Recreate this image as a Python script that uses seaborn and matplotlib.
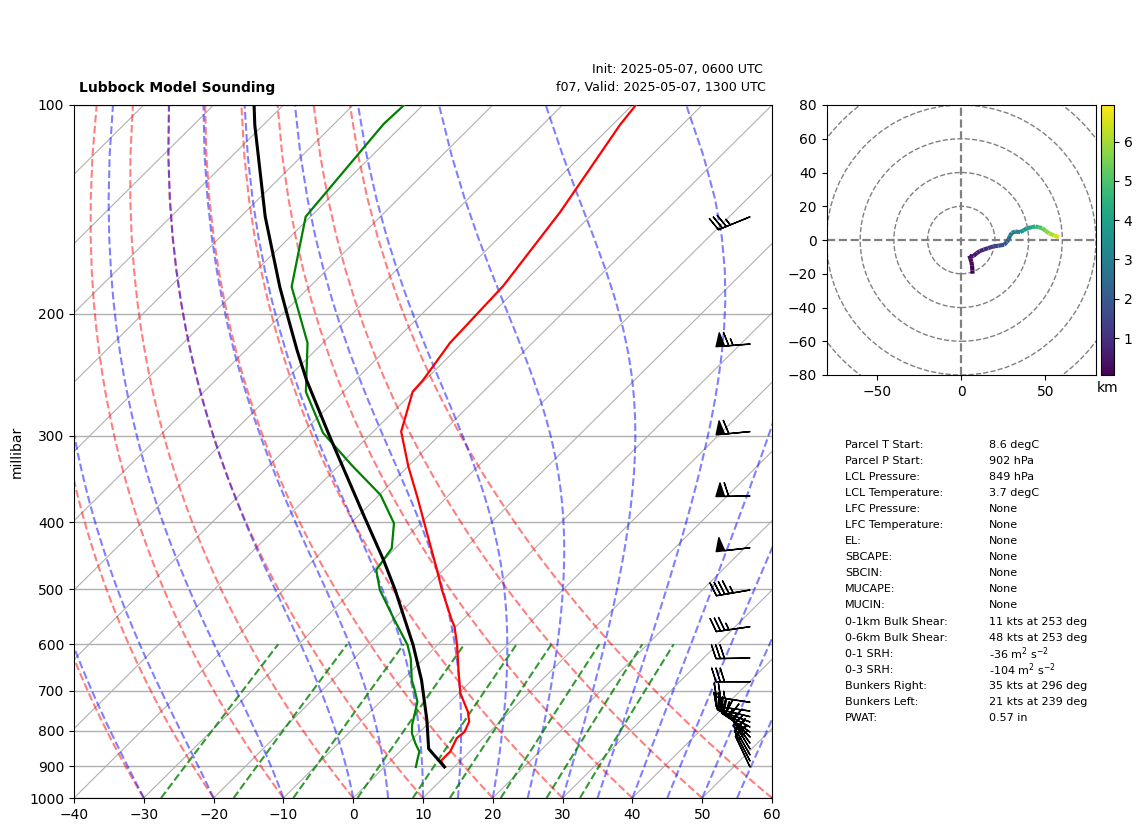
import numpy as np
import matplotlib
matplotlib.use("Agg")
import matplotlib.pyplot as plt
import matplotlib.transforms as mtrans
import seaborn as sns
from matplotlib.collections import LineCollection
from matplotlib.patches import Circle
from matplotlib.ticker import NullLocator, ScalarFormatter

# Sounding profiles (hPa, degC)
temp_p = [902, 883.5, 857.4, 819.5, 802.7, 776, 751, 705.6, 653.4, 601.4, 566, 552.3, 501,
          463.7, 401, 367.5, 332.6, 296, 259.3, 249.4, 220.5, 182.4, 142.7, 106.9, 100]
temp_c = [8.6, 7.2, 7.2, 6.2, 6.4, 5.6, 4.0, 0.2, -3.4, -7.2, -10.2, -11.7, -17.3,
          -21.5, -29.5, -34.3, -39.9, -46.0, -50.1, -50.3, -51.8, -52.4, -54.9, -58.9, -59.5]

dewp_p = [902, 881.3, 857.4, 833.7, 806.9, 784.6, 754.6, 726.1, 695.6, 676.2, 628.8, 601.4, 549.9,
          501, 468.8, 436.3, 401.4, 365.4, 330.7, 297.3, 259.3, 220.5, 182.9, 144.9, 106.5, 100]
dewp_c = [4.5, 3.7, 2.8, 1.0, -0.9, -2.1, -3.4, -4.7, -7.0, -8.6, -11.9, -14.3, -20.2,
          -26.2, -29.6, -30.5, -33.8, -39.8, -48.3, -57.0, -65.4, -72.2, -82.6, -90.7, -92.9, -92.7]

parcel_p = [902, 849, 771.7, 676.2, 601.4, 552.3, 501, 453.5, 392.7, 301, 249.4, 225.7, 199.6,
            182.9, 144.9, 106.9, 100]
parcel_c = [8.6, 3.7, -0.7, -7.2, -13.5, -18.4, -24.0, -30.0, -39.0, -55.5, -67.0, -72.7, -79.5,
            -84.3, -96.5, -111.2, -114.2]

# Wind barbs (hPa, kts)
barb_p = [145, 221.3, 296, 366.6, 435.4, 501, 566, 628.1, 679.6, 727.6, 749, 763.2, 776.7,
          789.8, 803.1, 816.3, 833.3, 849.7, 866.8, 884.4, 902]
barb_u = [32.4, 64.8, 59.7, 60, 49.7, 44.4, 34.6, 30, 30, 24.7, 22, 21, 19,
          17, 15, 12, 10, 9, 9, 9, 9]
barb_v = [13.2, 5, 5.7, 1, 5.7, 7.6, 5, 0.5, 0, -3.8, -3, -5, -7,
          -9, -10, -12, -14, -15, -16, -17.5, -19]

# Hodograph (kts, km)
hodo_u = [6.7, 6.6, 6.4, 6.0, 5.4, 4.8, 6.0, 7.2, 9.3, 11, 13.3, 16, 19, 22, 25.5, 27, 28, 29, 30, 32,
          35, 37, 39, 42, 44, 46, 48, 50, 52, 55, 58]
hodo_v = [-20, -18, -15, -13, -11, -9.3, -9.8, -9.5, -7.7, -6.6, -5.7, -4.8, -3.8, -3.4, -2.8, -1.2, 0.2,
          2.5, 4.2, 5, 4.7, 5.7, 7, 7.6, 8, 7.6, 7, 5.5, 4, 2.8, 1.6]
hodo_h = [0.06, 0.1, 0.15, 0.2, 0.27, 0.35, 0.42, 0.5, 0.65, 0.8, 1, 1.2, 1.4, 1.65, 1.9, 2.2, 2.5, 2.75,
          3, 3.25, 3.5, 3.75, 4.05, 4.35, 4.65, 5, 5.4, 5.7, 6.05, 6.5, 6.93]

# Background guide lines
isotherms = list(range(-150, 70, 10))
dry_t0 = list(range(-40, 70, 10))
moist_t0 = [-40, -30, -20, -10] + list(range(0, 65, 5))
mixing_w = [0.0004, 0.001, 0.002, 0.004, 0.007, 0.01, 0.016, 0.024, 0.032]

# Parcel and shear table
table_labels = ["Parcel T Start:", "Parcel P Start:", "LCL Pressure:", "LCL Temperature:", "LFC Pressure:",
                "LFC Temperature:", "EL:", "SBCAPE:", "SBCIN:", "MUCAPE:", "MUCIN:", "0-1km Bulk Shear:",
                "0-6km Bulk Shear:", "0-1 SRH:", "0-3 SRH:", "Bunkers Right:", "Bunkers Left:", "PWAT:"]
table_values = ["8.6 degC", "902 hPa", "849 hPa", "3.7 degC", "None", "None", "None", "None", "None", "None",
                "None", "11 kts at 253 deg", "48 kts at 253 deg", r"-36 m$^2$ s$^{-2}$", r"-104 m$^2$ s$^{-2}$",
                "35 kts at 296 deg", "21 kts at 239 deg", "0.57 in"]

WIDTH, HEIGHT = 1142, 832


def sat_lapse(p, t):
    # moist adiabatic dT/dp, t in K, p in hPa
    es = 6.112 * np.exp(17.67 * (t - 273.15) / (t - 273.15 + 243.5))
    rs = 0.622 * es / (p - es)
    return (287.0 * t + 2.501e6 * rs) / (1005.0 + 2.501e6 ** 2 * rs * 0.622 / (287.0 * t ** 2)) / p


def moist_adiabat(t0, pressure):
    temps = [t0 + 273.15]
    for p0, p1 in zip(pressure[:-1], pressure[1:]):
        t = temps[-1]
        h = (p1 - p0) / 4
        p = p0
        for _ in range(4):
            k1 = sat_lapse(p, t)
            k2 = sat_lapse(p + h / 2, t + h * k1 / 2)
            k3 = sat_lapse(p + h / 2, t + h * k2 / 2)
            k4 = sat_lapse(p + h, t + h * k3)
            t = t + h * (k1 + 2 * k2 + 2 * k3 + k4) / 6
            p = p + h
        temps.append(t)
    return np.array(temps) - 273.15


fig = plt.figure(figsize=(WIDTH / 100, HEIGHT / 100), dpi=100)
ax = fig.add_axes([74 / WIDTH, 1 - 798 / HEIGHT, 698 / WIDTH, 693 / HEIGHT])
ax.set_yscale("log")
ax.set_xlim(-40, 60)
ax.set_ylim(1000, 100)

skew = ax.transScale + ax.transLimits + mtrans.Affine2D().skew_deg(45, 0) + ax.transAxes
pressure = np.linspace(1000, 100, 50)

ax.grid(True, axis="y", color="#b0b0b0", lw=1.0)
for t in isotherms:
    ax.plot([t, t], [1000, 100], color="#b0b0b0", lw=0.8, transform=skew, zorder=1)
for t0 in dry_t0:
    dry = (t0 + 273.15) * (pressure / 1000) ** 0.2854 - 273.15
    ax.plot(dry, pressure, color="r", ls="--", alpha=0.5, transform=skew, zorder=2)
for t0 in moist_t0:
    ax.plot(moist_adiabat(t0, pressure), pressure, color="b", ls="--", alpha=0.5, transform=skew, zorder=2)
mix_p = np.linspace(1000, 600, 50)
for w in mixing_w:
    ln_e = np.log(mix_p * w / (0.622 + w) / 6.112)
    ax.plot(243.5 * ln_e / (17.67 - ln_e), mix_p, color="g", ls="--", alpha=0.8, transform=skew, zorder=2)

sns.lineplot(x=temp_c, y=temp_p, sort=False, estimator=None, color="r", lw=1.6, transform=skew, ax=ax, zorder=3)
sns.lineplot(x=dewp_c, y=dewp_p, sort=False, estimator=None, color="g", lw=1.6, transform=skew, ax=ax, zorder=3)
sns.lineplot(x=parcel_c, y=parcel_p, sort=False, estimator=None, color="k", lw=2.2, transform=skew, ax=ax, zorder=4)

barb_x = np.full(len(barb_p), 0.9685)
ax.barbs(barb_x, barb_p, barb_u, barb_v, clip_on=False, zorder=5,
         transform=mtrans.blended_transform_factory(ax.transAxes, ax.transData))

ax.set_xlim(-40, 60)
ax.set_ylim(1000, 100)
ax.set_xticks(range(-40, 70, 10))
ax.set_yticks(range(100, 1100, 100))
ax.yaxis.set_major_formatter(ScalarFormatter())
ax.yaxis.set_minor_locator(NullLocator())
ax.set_xlabel("")
ax.set_ylabel("millibar")
ax.yaxis.set_label_coords(-0.072, 0.5)

fig.text(79 / WIDTH, 1 - 88 / HEIGHT, "Lubbock Model Sounding", fontweight="bold", va="center")
fig.text(763 / WIDTH, 1 - 70 / HEIGHT, "Init: 2025-05-07, 0600 UTC", ha="right", va="center", fontsize=9.1)
fig.text(766 / WIDTH, 1 - 88 / HEIGHT, "f07, Valid: 2025-05-07, 1300 UTC", ha="right", va="center", fontsize=9.1)

# Hodograph
hodo = fig.add_axes([826.5 / WIDTH, 1 - 375 / HEIGHT, 269.5 / WIDTH, 270 / HEIGHT])
hodo.set_xlim(-80, 80)
hodo.set_ylim(-80, 80)
for r in range(20, 120, 20):
    hodo.add_patch(Circle((0, 0), r, fill=False, color="grey", ls="--", lw=1))
hodo.axhline(0, color="grey", ls="--", lw=1.6)
hodo.axvline(0, color="grey", ls="--", lw=1.6)

points = np.column_stack([hodo_u, hodo_v]).reshape(-1, 1, 2)
segments = np.concatenate([points[:-1], points[1:]], axis=1)
trace = LineCollection(segments, cmap="viridis", lw=3, zorder=3)
trace.set_array(np.array(hodo_h[:-1]))
trace.set_clim(min(hodo_h), max(hodo_h))
hodo.add_collection(trace)
hodo.set_xticks([-50, 0, 50])

cax = fig.add_axes([1100.5 / WIDTH, 1 - 375 / HEIGHT, 13.5 / WIDTH, 270 / HEIGHT])
cbar = fig.colorbar(trace, cax=cax)
cbar.set_ticks([1, 2, 3, 4, 5, 6])
cbar.ax.set_xlabel("km")

# Table
for i, (label, value) in enumerate(zip(table_labels, table_values)):
    y = 444.5 + i * 16.1
    fig.text(845 / WIDTH, 1 - y / HEIGHT, label, fontsize=8, va="center")
    fig.text(989 / WIDTH, 1 - y / HEIGHT, value, fontsize=8, va="center")

fig.savefig("out.png", dpi=100)
